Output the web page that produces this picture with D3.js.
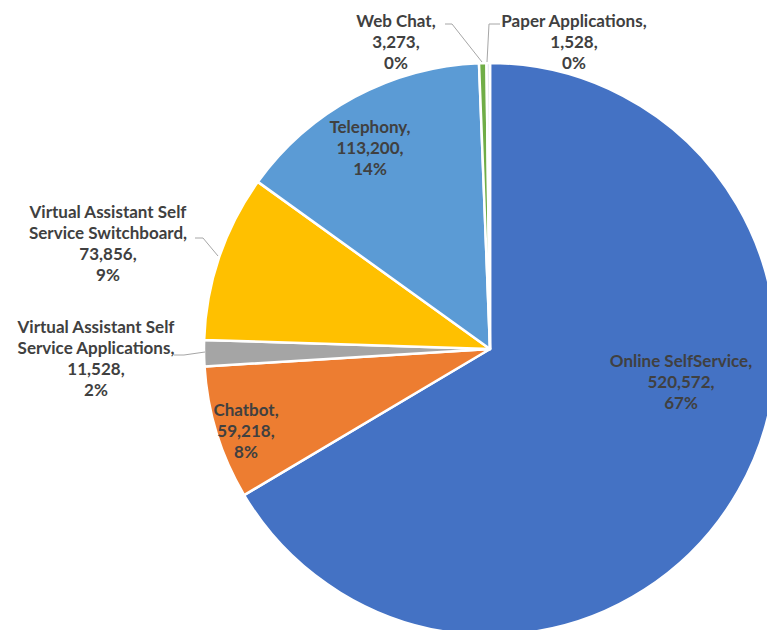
<!DOCTYPE html>
<html>
<head>
<meta charset="utf-8">
<script src="https://cdn.jsdelivr.net/npm/d3@7"></script>
<style>
  body { margin: 0; background: #fff; }
  svg { display: block; }
</style>
</head>
<body>
<div id="chart"></div>
<script>
// data, clockwise from 12 o'clock
var categories = ['Online SelfService', 'Chatbot', 'Virtual Assistant Self Service Applications',
    'Virtual Assistant Self Service Switchboard', 'Telephony', 'Web Chat', 'Paper Applications'];
var values = [520572, 59218, 11528, 73856, 113200, 3273, 1528];
var percentLabels = ['67%', '8%', '2%', '9%', '14%', '0%', '0%'];
var labelNames = [['Online SelfService'], ['Chatbot'], ['Virtual Assistant Self', 'Service Applications'],
    ['Virtual Assistant Self', 'Service Switchboard'], ['Telephony'], ['Web Chat'], ['Paper Applications']];

var colors = ['#4472c4', '#ed7d31', '#a5a5a5', '#ffc000', '#5b9bd5', '#70ad47', '#dfe3ea'];

var width = 767, height = 630;
var cx = 490, cy = 349, radius = 286;
var lineH = 21;

// label anchors (centre x, baseline of first line) and leader lines
var labelLayout = [
    { x: 681, y: 367 },
    { x: 246, y: 416 },
    { x: 96, y: 333, leader: [[174, 355], [184, 355], [205, 352]] },
    { x: 108, y: 218, leader: [[195, 238], [203, 238], [218, 256]] },
    { x: 370, y: 133 },
    { x: 396, y: 27, leader: [[445, 24], [452, 24], [482, 62]] },
    { x: 574, y: 27, leader: [[500, 24], [489, 24], [487, 62]] }
];

var svg = d3.select('#chart').append('svg')
    .attr('width', width)
    .attr('height', height);

var rows = categories.map(function(c, i) {
    return { name: c, value: values[i], pct: percentLabels[i], lines: labelNames[i], i: i };
});

var pie = d3.pie().sort(null).value(function(d) { return d.value; });
var arc = d3.arc().innerRadius(0).outerRadius(radius);

var g = svg.append('g').attr('transform', 'translate(' + cx + ',' + cy + ')');

g.selectAll('path')
    .data(pie(rows))
    .enter()
    .append('path')
    .attr('d', arc)
    .attr('fill', function(d) { return colors[d.data.i]; })
    .attr('stroke', '#fff')
    .attr('stroke-width', 2.5)
    .attr('stroke-linejoin', 'round');

// leader lines
var line = d3.line();
rows.forEach(function(d, i) {
    var L = labelLayout[i];
    if (L.leader) {
        svg.append('path')
            .attr('d', line(L.leader))
            .attr('fill', 'none')
            .attr('stroke', '#a6a6a6')
            .attr('stroke-width', 1);
    }
});

// labels
rows.forEach(function(d, i) {
    var L = labelLayout[i];
    var allLines = d.lines.slice();
    allLines[allLines.length - 1] += ',';
    allLines.push(d3.format(',')(d.value) + ',');
    allLines.push(d.pct);
    var t = svg.append('text')
        .attr('x', L.x)
        .attr('y', L.y)
        .attr('text-anchor', 'middle')
        .style('font-family', 'Lato, "Open Sans", sans-serif')
        .style('font-weight', 'bold')
        .style('font-size', '17px')
        .style('fill', '#404040');
    allLines.forEach(function(s, k) {
        t.append('tspan')
            .attr('x', L.x)
            .attr('dy', k === 0 ? 0 : lineH)
            .text(s);
    });
});
</script>
</body>
</html>
